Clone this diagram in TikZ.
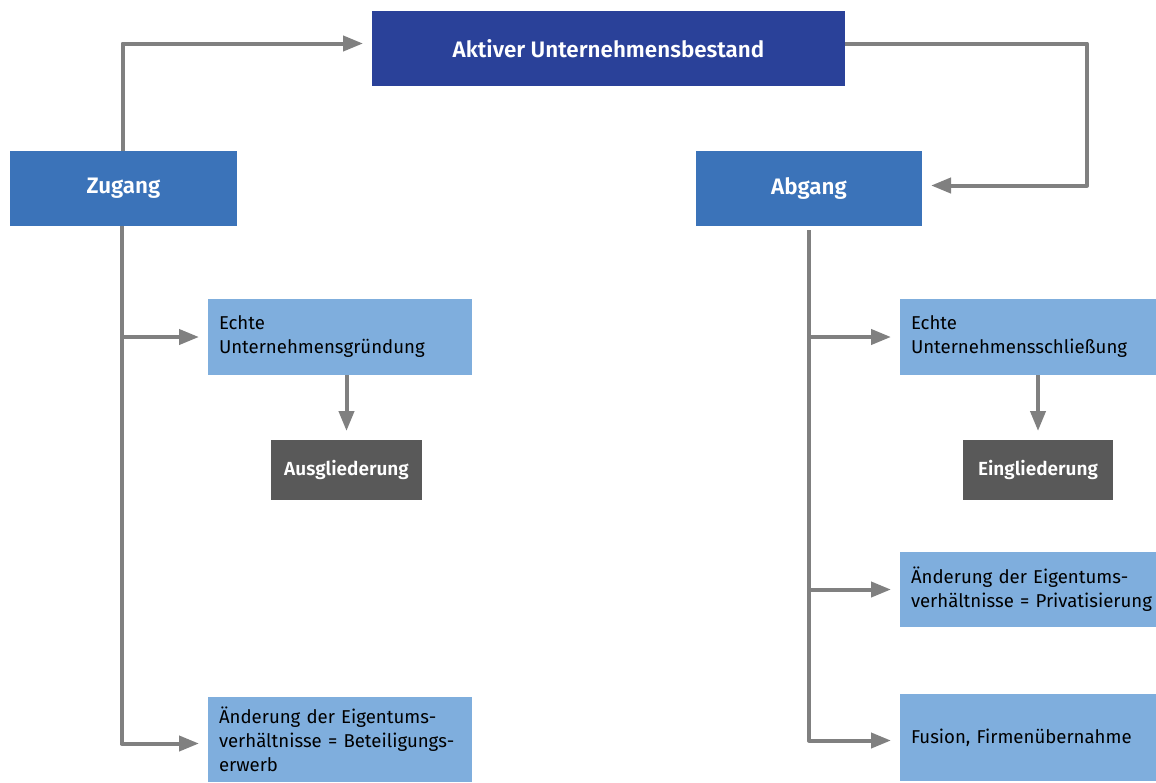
\documentclass[tikz,border=0pt]{standalone}
\usepackage{fontspec}
\setmainfont{Fira Sans}[BoldFont={Fira Sans SemiBold}]
\usetikzlibrary{arrows.meta}
\definecolor{topblue}{RGB}{42,65,153}
\definecolor{midblue}{RGB}{59,115,185}
\definecolor{lightblue}{RGB}{127,174,221}
\definecolor{darkgray}{RGB}{89,89,89}
\definecolor{conngray}{RGB}{128,128,128}
\tikzset{
  basebox/.style={anchor=north west, inner sep=0pt, outer sep=0pt, font=\fontsize{18.6}{24}\selectfont},
  headbox/.style={basebox, fill=#1, text=white, font=\fontsize{22.4}{26}\selectfont\bfseries},
  graybox/.style={basebox, fill=darkgray, text=white, font=\fontsize{19}{24}\selectfont\bfseries},
  leafbox/.style={basebox, fill=lightblue, text=black, align=left, inner xsep=11pt},
  conn/.style={draw=conngray, line width=4pt, line join=round, -{Triangle[length=20pt,width=15pt]}, shorten >=9pt}
}
\begin{document}
\begin{tikzpicture}[x=1pt,y=-1pt]
\useasboundingbox (0,0) rectangle (1156,782);
% head boxes
\node[headbox=topblue, minimum width=473pt, minimum height=75pt] (top) at (372,11) {Aktiver Unternehmensbestand};
\node[headbox=midblue, minimum width=227pt, minimum height=75pt] (zug) at (10,151) {Zugang};
\node[headbox=midblue, minimum width=226pt, minimum height=75pt] (abg) at (696,151) {Abgang};
% left leaves
\node[leafbox, text width=242pt, minimum height=76pt] (gruend) at (208,299) {Echte\\Unternehmensgründung};
\node[graybox, minimum width=151pt, minimum height=60pt] (ausg) at (271,440) {Ausgliederung};
\node[leafbox, text width=242pt, minimum height=85pt] (bet) at (208,697) {Änderung der Eigentums-\\verhältnisse = Beteiligungs-\\erwerb};
% right leaves
\node[leafbox, text width=234pt, minimum height=76pt] (schl) at (900,299) {Echte\\Unternehmensschließung};
\node[graybox, minimum width=150pt, minimum height=60pt] (eing) at (963,440) {Eingliederung};
\node[leafbox, text width=234pt, minimum height=75pt] (priv) at (900,552) {Änderung der Eigentums-\\\mbox{verhältnisse = Privatisierung}};
\node[leafbox, text width=234pt, minimum height=87pt] (fus) at (900,694) {Fusion, Firmenübernahme};
% connectors
\draw[conn] ([xshift=-1pt]zug.north) |- ([yshift=5pt]top.west);
\draw[conn] ([yshift=5pt]top.east) -| ([xshift=165pt,yshift=3pt]abg.east) -- ([yshift=3pt]abg.east);
\draw[conn] ([xshift=-2pt]zug.south) |- ([yshift=-4pt]bet.west);
\draw[conn] ([xshift=-2pt]zug.south |- gruend.west) -- (gruend.west);
\draw[conn] (ausg.north |- gruend.south) -- (ausg.north);
\draw[conn] ([yshift=-4pt]abg.south) |- ([yshift=-3pt]fus.west);
\draw[conn] (abg.south |- schl.west) -- (schl.west);
\draw[conn] (abg.south |- priv.west) -- (priv.west);
\draw[conn] (eing.north |- schl.south) -- (eing.north);
\end{tikzpicture}
\end{document}
